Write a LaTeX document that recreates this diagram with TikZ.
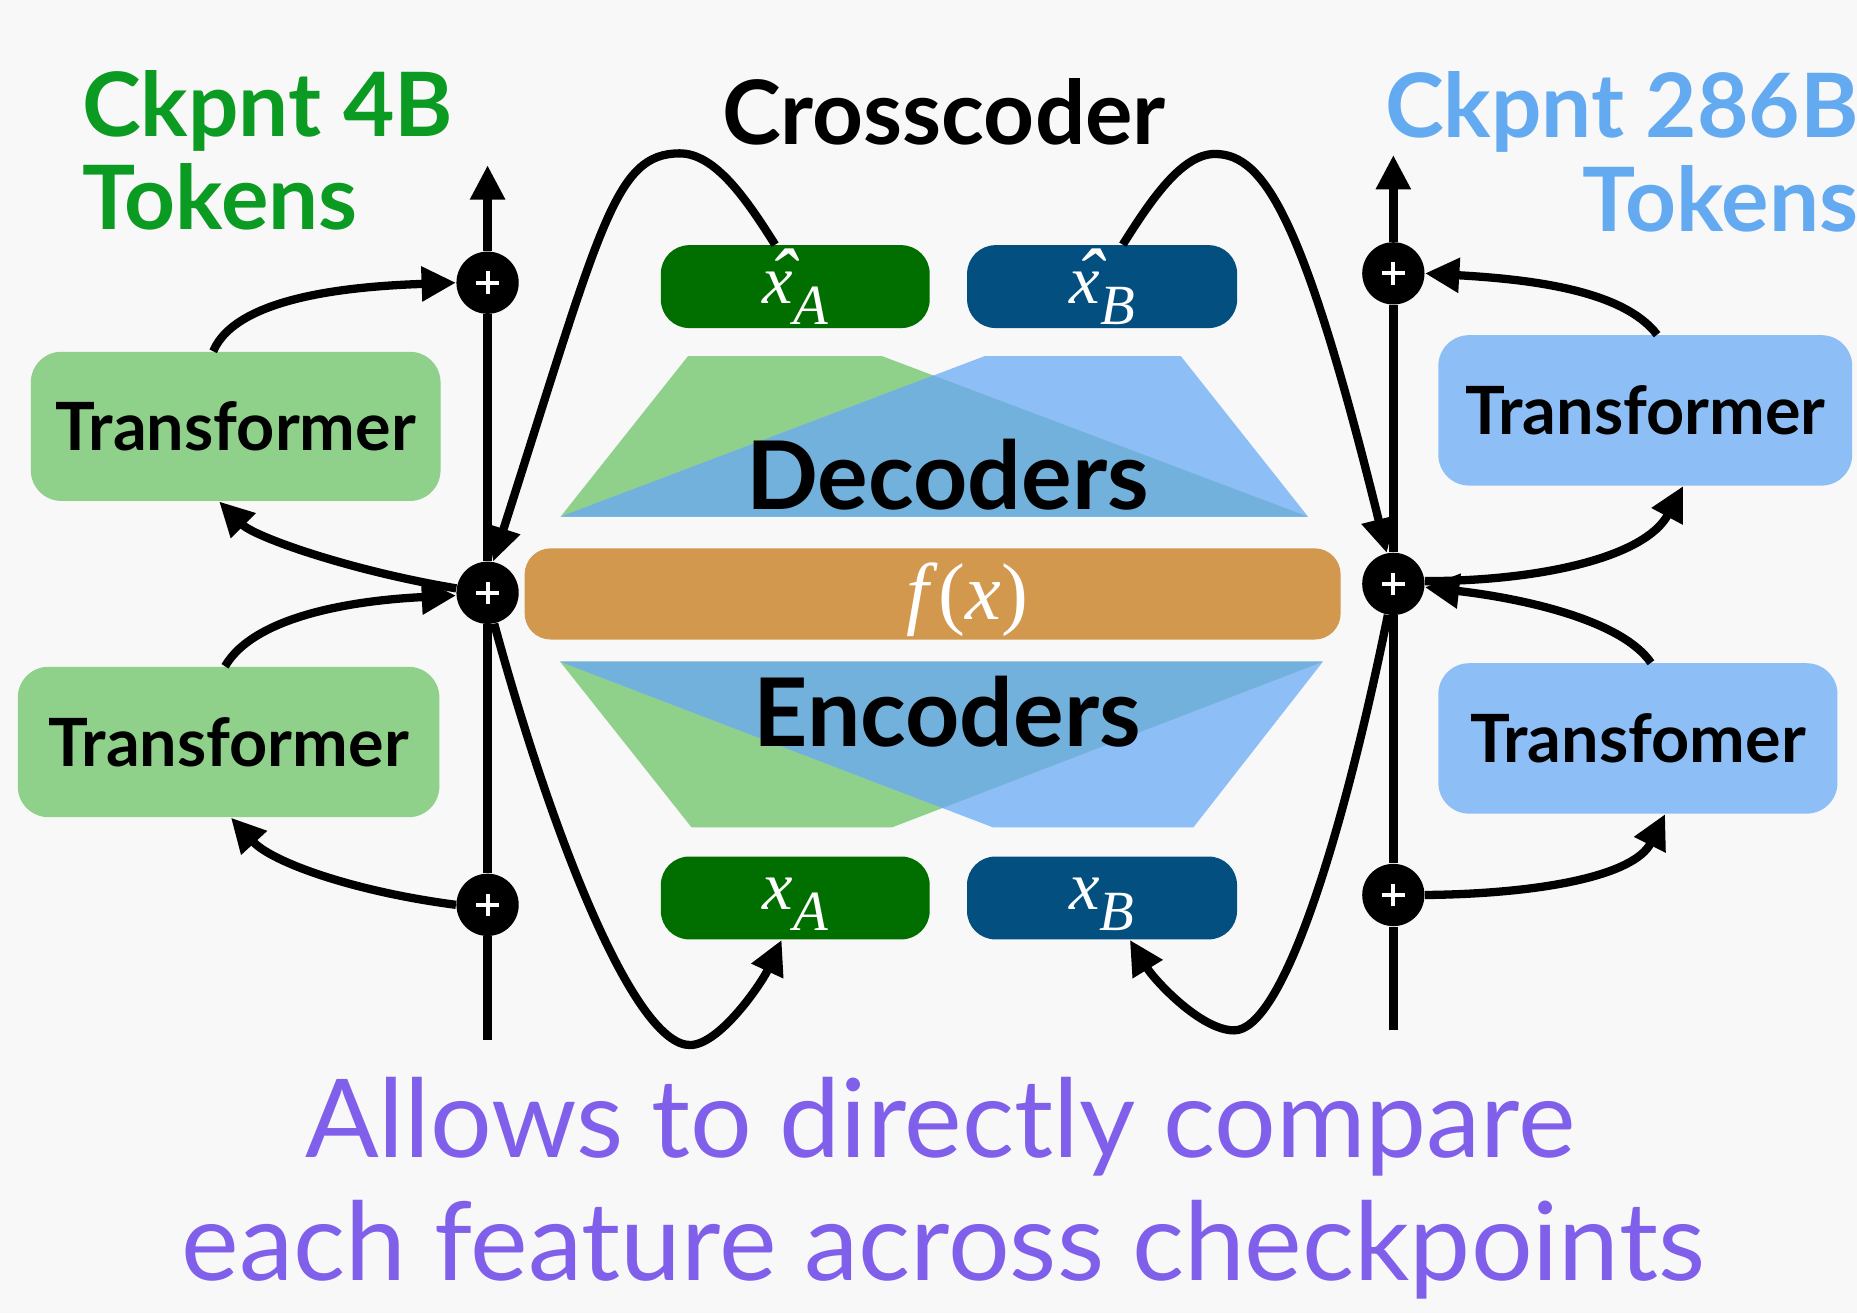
\documentclass[tikz,border=0pt]{standalone}
\usepackage{fontspec}
\newfontfamily\lato{Lato}
\newfontfamily\tms{Liberation Serif}
\usetikzlibrary{arrows.meta,calc}
\definecolor{bgc}{HTML}{F8F8F8}
\definecolor{gtext}{HTML}{0C9B22}
\definecolor{btext}{HTML}{64AAF0}
\definecolor{tgreen}{HTML}{8FD08B}
\definecolor{tblue}{HTML}{8DBEF6}
\definecolor{dgreen}{HTML}{006F00}
\definecolor{dblue}{HTML}{034F80}
\definecolor{orng}{HTML}{D2984E}
\definecolor{ovl}{HTML}{72B1DB}
\definecolor{purp}{HTML}{8060EA}
\newcommand{\hd}{\lato\bfseries\fontsize{37.5}{40}\selectfont}
\newcommand{\mxl}[2]{{\tms\itshape\fontsize{29}{30}\selectfont #1\raisebox{-8.8pt}{\fontsize{24}{26}\selectfont #2}}}
\newcommand{\hx}{\rlap{\hspace{2.6pt}\raisebox{-1.2pt}{\fontsize{35}{35}\selectfont\symbol{"02C6}}}x}
\begin{document}
\begin{tikzpicture}[x=0.5pt,y=-0.5pt,
  arr/.style={line width=3.5pt,-{Triangle[length=14.5pt,width=14pt]}},
  vline/.style={line width=3.5pt},
  tbox/.style={rounded corners=13pt,inner sep=0pt,font=\lato\bfseries\fontsize{28.1}{30}\selectfont},
  mbox/.style={rounded corners=12pt,inner sep=0pt,text=white},
  hbox/.style={mbox,text height=20pt,text depth=6pt},
  xbox/.style={mbox,text height=16pt,text depth=6.5pt},
  plus/.style={circle,fill=black,minimum size=26.3pt,inner sep=0pt,
    path picture={\draw[white,line width=1.7pt]
      ([xshift=-4.75pt]path picture bounding box.center) -- ([xshift=4.75pt]path picture bounding box.center)
      ([yshift=-4.75pt]path picture bounding box.center) -- ([yshift=4.75pt]path picture bounding box.center);}},
  txt/.style={inner sep=0pt}
]
\useasboundingbox (0,0) rectangle (1568,1109);
\fill[bgc] (0,0) rectangle (1568,1109);

% decoders
\fill[tgreen] (581,300.6) -- (744.5,300.6) -- (1104.5,436.3) -- (473.3,436.3) -- cycle;
\fill[tblue] (831.7,300.6) -- (997,300.6) -- (1104.5,436.3) -- (473.3,436.3) -- cycle;
\begin{scope}
\clip (581,300.6) -- (744.5,300.6) -- (1104.5,436.3) -- (473.3,436.3) -- cycle;
\fill[ovl] (831.7,300.6) -- (997,300.6) -- (1104.5,436.3) -- (473.3,436.3) -- cycle;
\end{scope}
% encoders
\fill[tgreen] (473,558.7) -- (1117,558.7) -- (753,698.7) -- (584,698.7) -- cycle;
\fill[tblue] (473,558.7) -- (1117,558.7) -- (1007.6,698.7) -- (838.7,698.7) -- cycle;
\begin{scope}
\clip (473,558.7) -- (1117,558.7) -- (753,698.7) -- (584,698.7) -- cycle;
\fill[ovl] (473,558.7) -- (1117,558.7) -- (1007.6,698.7) -- (838.7,698.7) -- cycle;
\end{scope}
\node[txt,anchor=base,font=\lato\bfseries\fontsize{40}{42}\selectfont] (dec) at (800,430) {Decoders};
\node[txt,anchor=base,font=\lato\bfseries\fontsize{40}{42}\selectfont] (enc) at (800,630) {Encoders};

% titles
\node[txt,anchor=base west,text=gtext,font=\hd] (ck4) at (69,115.4) {Ckpnt 4B};
\node[txt,anchor=base west,text=gtext,font=\hd] (tk4) at (69,194) {Tokens};
\node[txt,anchor=base,font=\hd] (cc) at (797,122.2) {Crosscoder};
\node[txt,anchor=base east,text=btext,font=\hd] (ck286) at (1570,116.3) {Ckpnt 286B};
\node[txt,anchor=base west,text=btext,font=\hd] (tk286) at (1336,195.5) {Tokens};

% transformer boxes
\node[tbox,fill=tgreen,minimum width=173pt,minimum height=63pt] (tl) at (199,360) {Transformer};
\node[tbox,fill=tgreen,minimum width=178pt,minimum height=63.5pt] (bl) at (193,626.5) {Transformer};
\node[tbox,fill=tblue,minimum width=174.75pt,minimum height=63.5pt] (tr) at (1389.2,346.5) {Transformer};
\node[tbox,fill=tblue,minimum width=168.5pt,minimum height=63.5pt] (br) at (1383,623.5) {Transfomer};

% center boxes
\node[hbox,fill=dgreen,minimum width=113.5pt,minimum height=35pt] (xha) at (671.5,242) {\mxl{\hx}{A}};
\node[hbox,fill=dblue,minimum width=114pt,minimum height=35pt] (xhb) at (930.6,242) {\mxl{\hx}{B}};
\node[mbox,fill=orng,minimum width=344.5pt,minimum height=38.5pt,rounded corners=11pt] (fx) at (787.5,501.5) {};
\node[txt,anchor=base,text=white,font=\tms\fontsize{34}{36}\selectfont] (fxl) at (816.8,523.5) {\textit{f}(\textit{x})};
\node[xbox,fill=dgreen,minimum width=113.5pt,minimum height=35pt] (xa) at (671.5,758.2) {\mxl{x}{A}};
\node[xbox,fill=dblue,minimum width=114pt,minimum height=35pt] (xb) at (930.5,758.2) {\mxl{x}{B}};

% plus circles
\node[plus] (L1) at (411.7,238.7) {};
\node[plus] (L2) at (411.7,500.5) {};
\node[plus] (L3) at (411.7,764) {};
\node[plus] (R1) at (1176.5,230.8) {};
\node[plus] (R2) at (1176.5,493) {};
\node[plus] (R3) at (1176.5,755.7) {};
\coordinate (Ltop) at (411.7,139.5);
\coordinate (Lbot) at (411.7,878.2);
\coordinate (Rtop) at (1176.5,130.9);
\coordinate (Rbot) at (1176.5,870);

% residual streams
\draw[vline] (Lbot) -- (L3);
\draw[vline] (L3) -- (L2);
\draw[vline] (L2) -- (L1);
\draw[arr] (L1) -- (Ltop);
\draw[vline] (Rbot) -- (R3);
\draw[vline] (R3) -- (R2);
\draw[vline] (R2) -- (R1);
\draw[arr] (R1) -- (Rtop);

% left side transformers
\draw[arr] ([xshift=-9.5pt]tl.north) .. controls +(20,-47) and +(-85,3) .. (L1.west);
\draw[arr] (L2.172) .. controls +(-90,-15) and +(30,30) .. ([xshift=-7pt]tl.south);
\draw[arr] ([xshift=-1.5pt]bl.north) .. controls +(25,-43) and +(-85,4) .. (L2.185);
\draw[arr] (L3.west) .. controls +(-85,-11) and +(35,38) .. ([xshift=1pt]bl.south);
% right side transformers
\draw[arr] ([xshift=5pt]tr.north) .. controls +(-29,-38) and +(88,5) .. (R1.east);
\draw[arr] (R2.5) .. controls +(98,0) and +(-32,60) .. ([xshift=16pt]tr.south);
\draw[arr] ([xshift=5.5pt]br.north) .. controls +(-24,-35) and +(87,10) .. (R2.-6);
\draw[arr] (R3.east) .. controls +(98,-1) and +(-26,52) .. ([xshift=11.5pt]br.south);

% crosscoder arches
\draw[arr] ([xshift=-8.5pt]xha.north) .. controls +(-24,-38) and +(30,0) .. (574,129.5)
  .. controls +(-55,0) and +(91.5,-285.6) .. (L2.80);
\draw[arr] ([xshift=8.7pt]xhb.north) .. controls +(24,-38) and +(-28,0) .. (1025.9,130)
  .. controls +(42,0) and +(-69.6,-281.3) .. (R2.102);
\draw[arr] (L2.-78) .. controls +(52.8,193) and +(-45,0) .. (582.6,882.4)
  .. controls +(25,0) and +(-16.8,36.4) .. ([xshift=-5.75pt]xa.south);
\draw[arr] (R2.-100) .. controls +(-40,196) and +(40,0) .. (1042,870)
  .. controls +(-28,0) and +(20.8,34) .. ([xshift=11.75pt]xb.south);

% caption
\node[txt,anchor=base,text=purp,font=\lato\fontsize{46}{48}\selectfont] (c1) at (794,977) {Allows to directly compare};
\node[txt,anchor=base,text=purp,font=\lato\fontsize{46}{48}\selectfont] (c2) at (796.5,1081.6) {each feature across checkpoints};
\end{tikzpicture}
\end{document}
